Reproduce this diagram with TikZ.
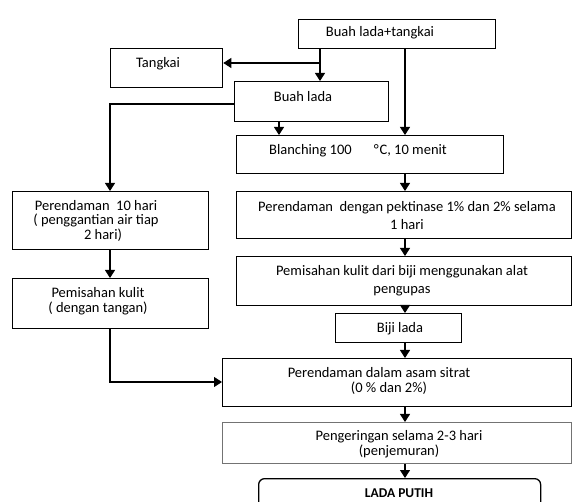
\documentclass[tikz,border=0pt]{standalone}
\usepackage{fontspec}
\setmainfont{Carlito}
\usetikzlibrary{arrows.meta}
\begin{document}
\begin{tikzpicture}[x=1pt,y=-1pt,
  box/.style={draw=black,line width=1.3pt,inner sep=0pt,anchor=north west},
  txt/.style={inner sep=0pt,align=center,font=\fontsize{14.5}{18}\selectfont},
  arr/.style={line width=1.1pt,-{Triangle[width=10pt,length=8pt]}},
  ln/.style={line width=1.1pt}]
\useasboundingbox (0,0) rectangle (573,502);
% boxes
\node[box,minimum width=197pt,minimum height=29pt] (top) at (298,19) {};
\node[box,minimum width=112pt,minimum height=39pt] (tang) at (110,48) {};
\node[box,minimum width=154pt,minimum height=40pt] (buah) at (234,81) {};
\node[box,minimum width=267pt,minimum height=38pt] (blanch) at (236,135) {};
\node[box,minimum width=335pt,minimum height=47pt] (pekt) at (236,191) {};
\node[box,minimum width=335pt,minimum height=49pt] (pisah) at (236,256) {};
\node[box,minimum width=126pt,minimum height=29pt] (biji) at (335,313) {};
\node[box,minimum width=349pt,minimum height=48pt] (asam) at (222,358) {};
\node[box,draw=black!55,line width=1pt,minimum width=349pt,minimum height=41pt] (kering) at (222,422) {};
\node[box,rounded corners=6pt,minimum width=282pt,minimum height=40pt] (putih) at (258,478) {};
\node[box,minimum width=196pt,minimum height=58pt] (rend) at (12,191) {};
\node[box,minimum width=196pt,minimum height=50pt] (pisahL) at (12,278) {};
% texts
\node[txt] (ttop) at (380,33) {Buah lada+tangkai};
\node[txt] (ttang) at (158,64) {Tangkai};
\node[txt] (tbuah) at (303,97) {Buah lada};
\node[txt] (tblanch) at (358,151) {Blanching 100\hspace{22pt}°\kern1pt C, 10 menit};
\node[txt] (tpekt) at (407,216) {Perendaman\ \ dengan pektinase 1\% dan 2\% selama\\1 hari};
\node[txt] (tpisah) at (402,281) {Pemisahan kulit dari biji menggunakan alat\\pengupas};
\node[txt] (tbiji) at (400,329) {Biji lada};
\node[txt,font=\fontsize{14.5}{15}\selectfont] (tasam) at (379,381) {Perendaman dalam asam sitrat\\\hspace*{20pt}(0 \% dan 2\%)};
\node[txt,font=\fontsize{14.5}{14.5}\selectfont] (tkering) at (399,444) {Pengeringan selama 2-3 hari\\(penjemuran)};
\node[txt,font=\fontsize{13.5}{16}\selectfont\bfseries] (tputih) at (399,493) {LADA PUTIH};
\node[txt,font=\fontsize{14.5}{14.5}\selectfont] (trend) at (96,220.5) {Perendaman\ \ 10 hari\\( penggantian air tiap\\\hspace*{14pt}2 hari)};
\node[txt,font=\fontsize{14.5}{15}\selectfont] (tpisahL) at (98,301) {Pemisahan kulit\\( dengan tangan)};
% helper coordinates
\coordinate (xa) at (320,0);
\coordinate (xb) at (405,0);
\coordinate (xc) at (279,0);
\coordinate (j1) at (320,63);
\coordinate (j2) at (110,104);
\coordinate (j3) at (110,382);
% connectors
\draw[arr] (top.south -| xa) -- (buah.north -| xa);
\draw[arr] (j1) -- (tang.east |- j1);
\draw[arr] (top.south -| xb) -- (blanch.north -| xb);
\draw[arr] (buah.south -| xc) -- (blanch.north -| xc);
\draw[arr] (buah.west |- j2) -- (j2) -- (rend.north -| j2);
\draw[arr] (rend.south -| j2) -- (pisahL.north -| j2);
\draw[arr] (pisahL.south -| j3) -- (j3) -- (asam.west |- j3);
\draw[arr] (blanch.south -| xb) -- (pekt.north -| xb);
\draw[arr] (pekt.south -| xb) -- (pisah.north -| xb);
\draw[arr] (pisah.south -| xb) -- (biji.north -| xb);
\draw[arr] (biji.south -| xb) -- (asam.north -| xb);
\draw[arr] (asam.south -| xb) -- (kering.north -| xb);
\draw[arr] (kering.south -| xb) -- (putih.north -| xb);
\end{tikzpicture}
\end{document}
